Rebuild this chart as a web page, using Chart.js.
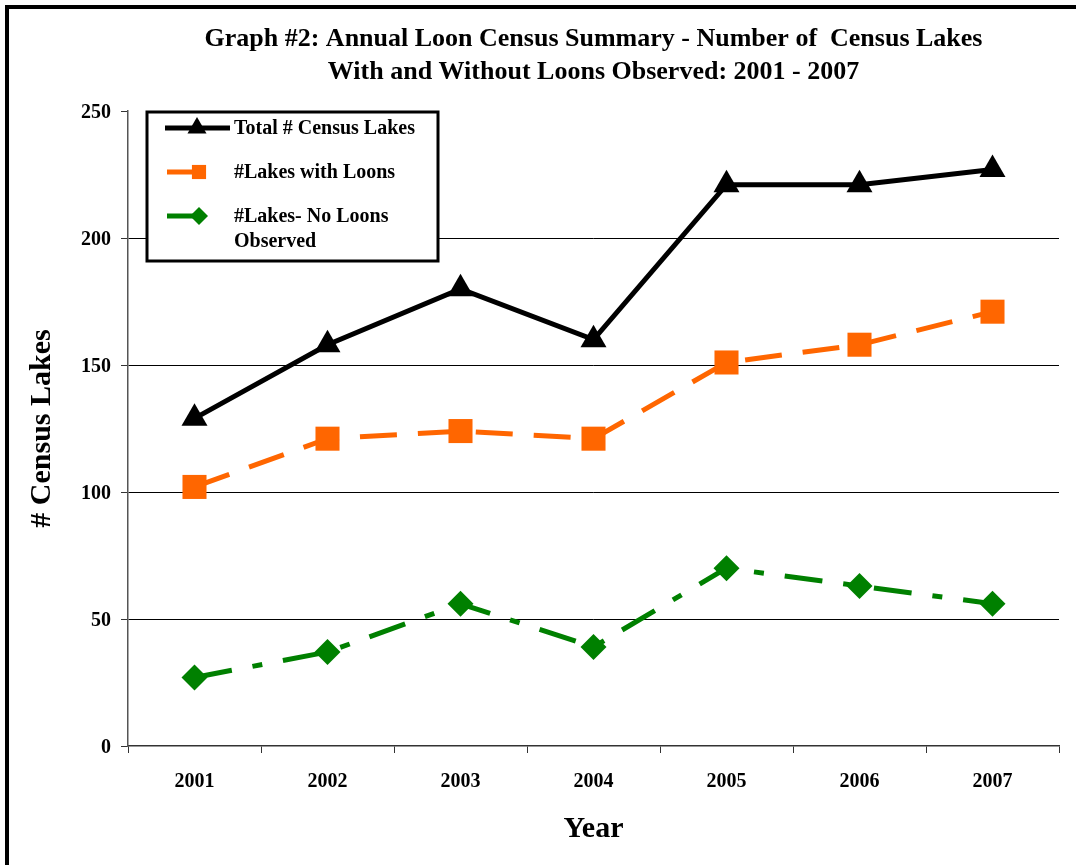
<!DOCTYPE html>
<html lang="en">
<head>
    <meta charset="UTF-8">
    <title>Annual Loon Census Summary</title>
    <script src="https://cdn.jsdelivr.net/npm/chart.js"></script>
    <style>
        html, body { margin: 0; padding: 0; background: #fff; }
        .wrap { position: relative; width: 1076px; height: 865px; }
        .frame {
            position: absolute; left: 5px; top: 5px; right: 0; bottom: 0;
            border-left: 4px solid #000; border-top: 4px solid #000;
            pointer-events: none;
        }
        canvas { position: absolute; left: 0; top: 0; }
    </style>
</head>
<body>
<div class="wrap">
    <canvas id="loonChart" width="1076" height="865"></canvas>
    <div class="frame"></div>
</div>

<script>
    // Data
    const years = ['2001', '2002', '2003', '2004', '2005', '2006', '2007'];
    const totalLakes = [129, 158, 180, 160, 221, 221, 227];
    const lakesWithLoons = [102, 121, 124, 121, 151, 158, 171];
    const lakesNoLoons = [27, 37, 56, 39, 70, 63, 56];
    const yTicks = [0, 50, 100, 150, 200, 250];

    const serif = '"Liberation Serif", "Times New Roman", serif';

    // legend drawn inside the plot, like the original
    const boxLegend = {
        id: 'boxLegend',
        afterDraw(chart) {
            const ctx = chart.ctx;
            const x0 = 147, y0 = 112, w = 291, h = 149;
            ctx.save();
            ctx.fillStyle = '#fff';
            ctx.fillRect(x0, y0, w, h);
            ctx.lineWidth = 3;
            ctx.strokeStyle = '#000';
            ctx.strokeRect(x0, y0, w, h);

            const rows = [
                { ds: 0, y: 128, x1: 165, x2: 230, mx: 197, r: 11, text: ['Total # Census Lakes'] },
                { ds: 1, y: 172, x1: 167, x2: 205, mx: 199, r: 10, text: ['#Lakes with Loons'] },
                { ds: 2, y: 216, x1: 167, x2: 205, mx: 199, r: 9, text: ['#Lakes- No Loons', 'Observed'] }
            ];
            ctx.font = 'bold 20px ' + serif;
            ctx.textBaseline = 'middle';
            rows.forEach(row => {
                const d = chart.data.datasets[row.ds];
                ctx.strokeStyle = d.borderColor;
                ctx.lineWidth = d.borderWidth;
                ctx.setLineDash([]);
                ctx.beginPath();
                ctx.moveTo(row.x1, row.y);
                ctx.lineTo(row.x2, row.y);
                ctx.stroke();
                ctx.fillStyle = d.pointBackgroundColor;
                Chart.helpers.drawPoint(ctx, { pointStyle: d.pointStyle, radius: row.r, borderWidth: 0 }, row.mx, row.y);
                ctx.fillStyle = '#000';
                row.text.forEach((t, i) => ctx.fillText(t, 234, row.y + 1 + i * 25));
            });
            ctx.restore();
        }
    };

    const ctx = document.getElementById('loonChart').getContext('2d');
    const chart = new Chart(ctx, {
        type: 'line',
        data: {
            labels: years,
            datasets: [
                {
                    label: 'Total # Census Lakes',
                    data: totalLakes,
                    borderColor: '#000',
                    backgroundColor: '#000',
                    pointBackgroundColor: '#000',
                    borderWidth: 5,
                    pointStyle: 'triangle',
                    pointRadius: 15,
                    pointBorderWidth: 0,
                    tension: 0
                },
                {
                    label: '#Lakes with Loons',
                    data: lakesWithLoons,
                    borderColor: '#ff6600',
                    backgroundColor: '#ff6600',
                    pointBackgroundColor: '#ff6600',
                    borderWidth: 5,
                    borderDash: [37, 21],
                    pointStyle: 'rect',
                    pointRadius: 17,
                    pointBorderWidth: 0,
                    tension: 0
                },
                {
                    label: '#Lakes- No Loons Observed',
                    data: lakesNoLoons,
                    borderColor: '#008000',
                    backgroundColor: '#008000',
                    pointBackgroundColor: '#008000',
                    borderWidth: 5,
                    borderDash: [38, 21, 10, 21],
                    pointStyle: 'rectRot',
                    pointRadius: 13,
                    pointBorderWidth: 0,
                    tension: 0
                }
            ]
        },
        options: {
            responsive: false,
            animation: false,
            layout: { padding: { top: 0, right: 16, bottom: 0, left: 0 } },
            plugins: {
                legend: { display: false },
                tooltip: { enabled: false },
                title: {
                    display: true,
                    fullSize: false,
                    text: ['Graph #2: Annual Loon Census Summary - Number of  Census Lakes',
                           'With and Without Loons Observed: 2001 - 2007'],
                    color: '#000',
                    font: { family: serif, size: 26, weight: 'bold', lineHeight: 1.27 },
                    padding: { top: 23, bottom: 22 }
                }
            },
            scales: {
                x: {
                    offset: true,
                    grid: {
                        display: true,
                        offset: true,
                        drawOnChartArea: false,
                        tickLength: 7,
                        color: '#333'
                    },
                    border: { color: '#333', width: 1.5 },
                    ticks: {
                        color: '#000',
                        padding: 17,
                        font: { family: serif, size: 20, weight: 'bold' }
                    },
                    title: {
                        display: true,
                        text: 'Year',
                        color: '#000',
                        font: { family: serif, size: 30, weight: 'bold' },
                        padding: { top: 0, bottom: 18 }
                    },
                    afterFit(scale) { scale.height = 119; }
                },
                y: {
                    min: 0,
                    max: 250,
                    afterBuildTicks(scale) { scale.ticks = yTicks.map(v => ({ value: v })); },
                    grid: {
                        color: c => (c.tick && (c.tick.value === 250 || c.tick.value === 0)) ? 'rgba(0,0,0,0)' : '#000',
                        tickColor: '#333',
                        tickLength: 7,
                        lineWidth: 1
                    },
                    border: { color: '#555', width: 1.5 },
                    ticks: {
                        color: '#000',
                        padding: 10,
                        labelOffset: 2,
                        font: { family: serif, size: 20, weight: 'bold' }
                    },
                    title: {
                        display: true,
                        text: '# Census Lakes',
                        color: '#000',
                        font: { family: serif, size: 30, weight: 'bold' },
                        padding: { top: 24, bottom: 0 }
                    },
                    afterFit(scale) { scale.width = 128; }
                }
            }
        },
        plugins: [boxLegend]
    });
</script>
</body>
</html>
